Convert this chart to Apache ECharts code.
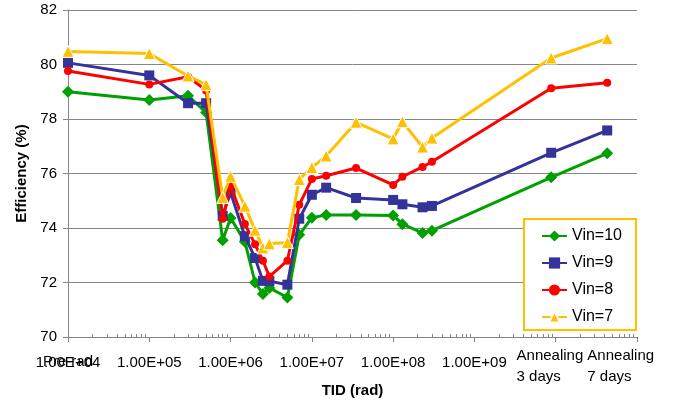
<!DOCTYPE html>
<html>
<head>
<meta charset="utf-8">
<script src="https://cdn.jsdelivr.net/npm/echarts@6/dist/echarts.min.js"></script>
<style>html,body{margin:0;padding:0;background:#fff}#c{width:678px;height:403px}</style>
</head>
<body>
<div id="c"></div>
<script>
// ---- data ----
const TID = [1e4, 1e5, 3e5, 5e5, 8e5, 1e6, 1.5e6, 2e6, 2.5e6, 3e6, 5e6, 7e6, 1e7, 1.5e7, 3.5e7, 1e8, 1.3e8, 2.3e8, 3e8, 8.8e9, 4.3e10];
const VIN10 = [79.0, 78.7, 78.85, 78.24, 73.55, 74.37, 73.5, 72.0, 71.58, 71.8, 71.45, 73.75, 74.38, 74.48, 74.48, 74.46, 74.14, 73.82, 73.9, 75.86, 76.74];
const VIN9  = [80.06, 79.6, 78.58, 78.58, 74.45, 75.3, 73.7, 72.9, 72.06, 72.05, 71.92, 74.34, 75.22, 75.48, 75.1, 75.03, 74.87, 74.76, 74.81, 76.76, 77.58];
const VIN8  = [79.76, 79.27, 79.55, 79.05, 74.34, 75.55, 74.15, 73.4, 72.8, 72.22, 72.8, 74.85, 75.8, 75.92, 76.2, 75.58, 75.88, 76.24, 76.43, 79.13, 79.33];
const VIN7  = [80.48, 80.4, 79.58, 79.26, 75.12, 75.9, 74.8, 73.92, 73.27, 73.42, 73.47, 75.78, 76.22, 76.64, 77.88, 77.27, 77.9, 76.97, 77.3, 80.24, 80.95];
const SERIES_NAMES = ['Vin=10', 'Vin=9', 'Vin=8', 'Vin=7'];
const XTICK_VALUES = [1e4, 1e5, 1e6, 1e7, 1e8, 1e9];
const XTICK_LABELS = ['1.00E+04', '1.00E+05', '1.00E+06', '1.00E+07', '1.00E+08', '1.00E+09'];
const PRERAD_VALUES = [1e4];
const PRERAD_LABELS = ['Pre-rad'];
const ANNEAL_LABEL_AT = [3.3e9, 2.45e10];
const ANNEAL_LABELS = ['Annealing\n3 days', 'Annealing\n7 days'];
const YTICKS = [70, 72, 74, 76, 78, 80, 82];

// ---- build ----
const FONT = 'Liberation Sans, Arial, sans-serif';
const AXIS_COLOR = '#868686';
const minorTicks = [];
for (let n = 4; n < 11; n++) for (let k = 2; k <= 9; k++) minorTicks.push(k * Math.pow(10, n));

function pairs(ys) { return TID.map((x, i) => [x, ys[i]]); }

const styles = [
  {color: '#00A000', symbol: 'diamond', size: 12, border: null},
  {color: '#333399', symbol: 'rect', size: 10, border: null},
  {color: '#FF0000', symbol: 'circle', size: 8, border: null},
  {color: '#FFC000', symbol: 'triangle', size: 12, border: '#ffffff'}
];
const values = [VIN10, VIN9, VIN8, VIN7];

const series = values.map((v, i) => ({
  name: SERIES_NAMES[i],
  type: 'line',
  xAxisIndex: 0,
  data: pairs(v),
  symbol: styles[i].symbol,
  symbolSize: styles[i].size,
  showAllSymbol: true,
  lineStyle: {color: styles[i].color, width: 3},
  itemStyle: {color: styles[i].color, borderColor: styles[i].border || styles[i].color, borderWidth: styles[i].border ? 1 : 0},
  emphasis: {disabled: true},
  z: 2 + i
}));

function findIdx(list, v) {
  return list.findIndex(t => Math.abs(Math.log10(t) - Math.log10(v)) < 1e-6);
}

function labelAxis(vals, labs, extra) {
  return Object.assign({
    type: 'log', logBase: 10, min: 1e4, max: 1e11, position: 'bottom',
    axisLine: {show: false},
    axisTick: {show: false},
    splitLine: {show: false}
  }, extra, {
    axisLabel: Object.assign({
      customValues: vals, hideOverlap: false, showMinLabel: true, showMaxLabel: true,
      fontFamily: FONT, fontSize: 15, color: '#000', lineHeight: 21,
      formatter: function (v) {
        const i = findIdx(vals, v);
        return i >= 0 ? labs[i] : '';
      }
    }, extra.axisLabel || {})
  });
}

const chart = echarts.init(document.getElementById('c'), null, {renderer: 'canvas'});
chart.setOption({
  animation: false,
  backgroundColor: '#ffffff',
  textStyle: {fontFamily: FONT},
  grid: {left: 68, right: 41, top: 10, bottom: 63, containLabel: false},
  legend: {
    orient: 'vertical',
    left: 524, top: 219,
    padding: [9, 14, 5, 17],
    itemGap: 11,
    itemWidth: 25, itemHeight: 14,
    backgroundColor: '#ffffff',
    borderColor: '#FFC000', borderWidth: 2,
    textStyle: {fontFamily: FONT, fontSize: 16, color: '#000'},
    data: SERIES_NAMES
  },
  xAxis: [
    {
      type: 'log', logBase: 10, min: 1e4, max: 1e11,
      name: 'TID (rad)', nameLocation: 'middle', nameGap: 46,
      nameTextStyle: {fontFamily: FONT, fontSize: 15, fontWeight: 'bold', color: '#000'},
      axisLine: {show: true, lineStyle: {color: AXIS_COLOR, width: 1}},
      axisTick: {show: true, length: 5, customValues: XTICK_VALUES.concat([1e10, 1e11]), lineStyle: {color: AXIS_COLOR}},
      axisLabel: {
        customValues: XTICK_VALUES, margin: 18, hideOverlap: false,
        fontFamily: FONT, fontSize: 15, color: '#000',
        formatter: function (v) {
          const i = findIdx(XTICK_VALUES, v);
          return i >= 0 ? XTICK_LABELS[i] : '';
        }
      },
      splitLine: {show: false}, minorTick: {show: false}, minorSplitLine: {show: false}
    },
    labelAxis(PRERAD_VALUES, PRERAD_LABELS, {
      axisTick: {show: true, inside: true, length: 3, customValues: minorTicks, lineStyle: {color: AXIS_COLOR}},
      axisLabel: {margin: 14}
    }),
    labelAxis(ANNEAL_LABEL_AT, ANNEAL_LABELS, {
      axisLabel: {margin: 8, align: 'left'}
    })
  ],
  yAxis: {
    type: 'value', min: YTICKS[0], max: YTICKS[YTICKS.length - 1], interval: 2,
    name: 'Efficiency (%)', nameLocation: 'middle', nameGap: 35, nameRotate: 90,
    nameTextStyle: {fontFamily: FONT, fontSize: 15, fontWeight: 'bold', color: '#000'},
    axisLine: {show: true, lineStyle: {color: AXIS_COLOR, width: 1}},
    axisTick: {show: true, length: 5, lineStyle: {color: AXIS_COLOR}},
    axisLabel: {margin: 11, fontFamily: FONT, fontSize: 15, color: '#000'},
    splitLine: {show: true, lineStyle: {color: AXIS_COLOR, width: 1}}
  },
  series: series
});
</script>
</body>
</html>
